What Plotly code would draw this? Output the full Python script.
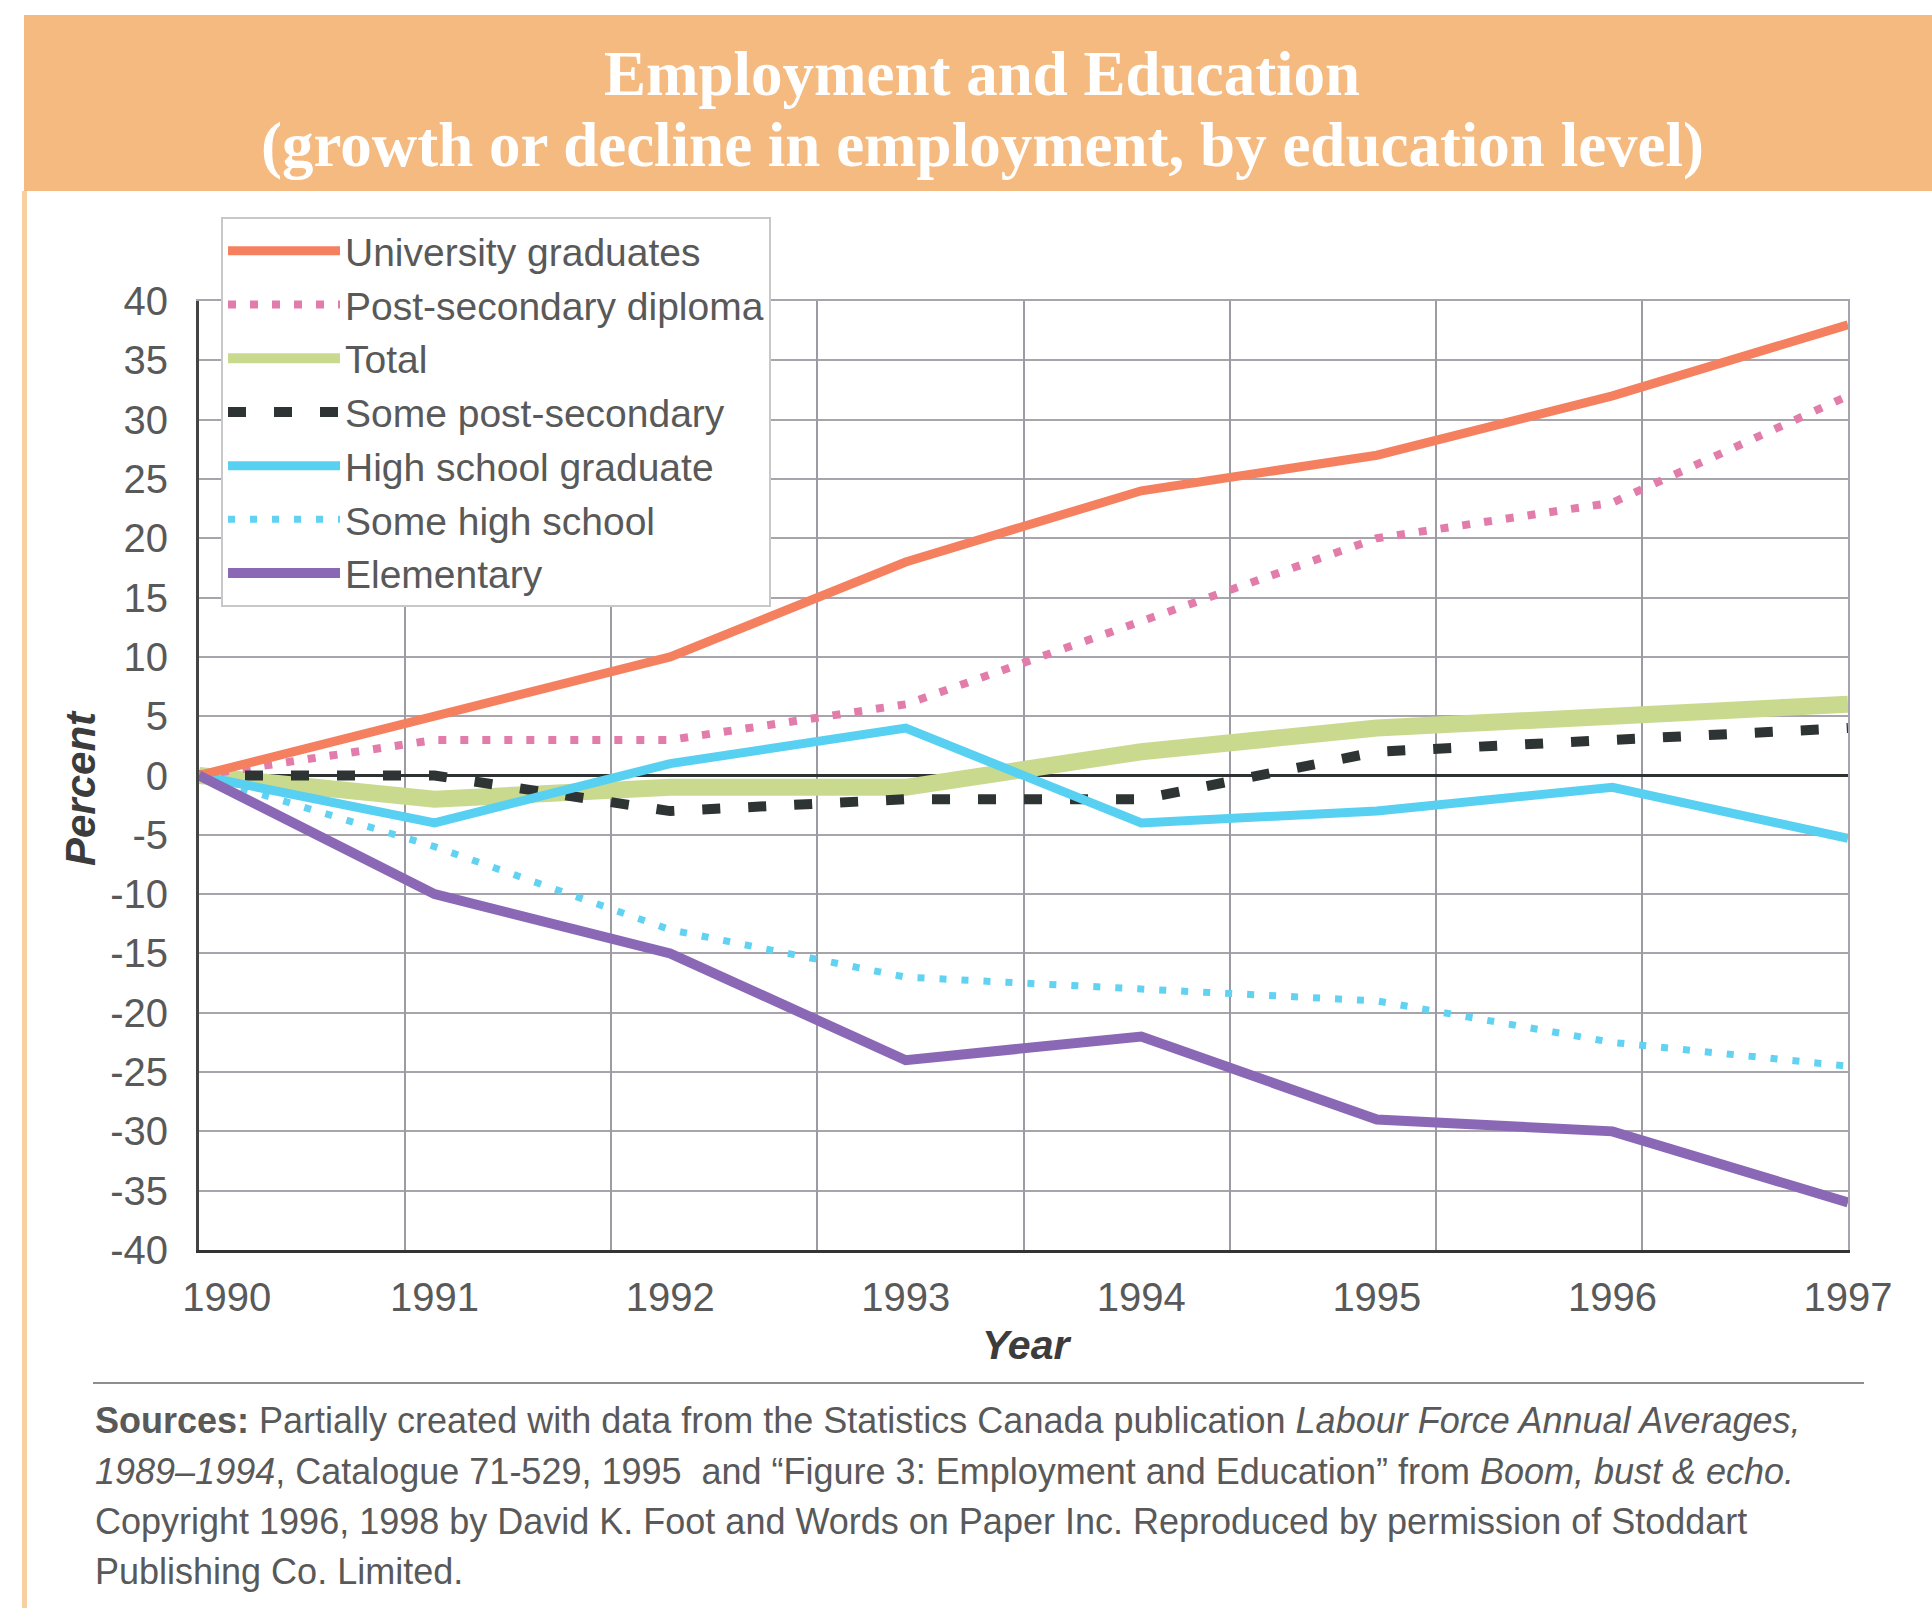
import plotly.graph_objects as go

# ---------------- data ----------------
years = [1990, 1991, 1992, 1993, 1994, 1995, 1996, 1997]
year_labels = ["\u00a0\u00a0\u00a0\u00a0\u00a01990", "1991", "1992", "1993", "1994", "1995", "1996", "1997"]

university_graduates = [0, 5, 10, 18, 24, 27, 32, 38]
post_secondary_diploma = [0, 3, 3, 6, 13, 20, 23, 32]
total = [0, -2, -1, -1, 2, 4, 5, 6]
some_post_secondary = [0, 0, -3, -2, -2, 2, 3, 4]
high_school_graduate = [0, -4, 1, 4, -4, -3, -1, -5.3]
some_high_school = [0, -6, -13, -17, -18, -19, -22.5, -24.5]
elementary = [0, -10, -15, -24, -22, -29, -30, -36]

y_ticks = [40, 35, 30, 25, 20, 15, 10, 5, 0, -5, -10, -15, -20, -25, -30, -35, -40]
y_tick_labels = ["40", "35", "30", "25", "20", "15", "10", "5", "0", "-5", "-10",
                 "-15", "-20", "-25", "-30", "-35", "-40"]

title_line1 = "Employment and Education"
title_line2 = "(growth or decline in employment, by education level)"
source_lines = [
    "<b>Sources:</b> Partially created with data from the Statistics Canada publication <i>Labour Force Annual Averages,</i>",
    "<i>1989\u20131994</i>, Catalogue 71-529, 1995  and \u201cFigure 3: Employment and Education\u201d from <i>Boom, bust &amp; echo.</i>",
    "Copyright 1996, 1998 by David K. Foot and Words on Paper Inc. Reproduced by permission of Stoddart",
    "Publishing Co. Limited.",
]

# ---------------- geometry helpers (pixel -> paper) ----------------
W, H = 1932, 1608
def PX(x):
    return x / W
def PY(y):
    return 1 - y / H

SANS = "Liberation Sans, Arial, sans-serif"
SERIF = "Liberation Serif, Times New Roman, serif"
TXT = "#595959"

fig = go.Figure()

# series (drawing order) with legend rank
series = [
    ("Total", total, dict(color="#C9DA8F", width=17), 3),
    ("Some high school", some_high_school, dict(color="#62D2F2", width=7, dash="7px,15px"), 6),
    ("Post-secondary diploma", post_secondary_diploma, dict(color="#E27DAB", width=8, dash="8px,14px"), 2),
    ("Some post-secondary", some_post_secondary, dict(color="#2E3433", width=10, dash="18px,28px"), 4),
    ("High school graduate", high_school_graduate, dict(color="#58D0F2", width=9), 5),
    ("University graduates", university_graduates, dict(color="#F5805F", width=9), 1),
    ("Elementary", elementary, dict(color="#8B68B5", width=10), 7),
]
for name, vals, line, rank in series:
    fig.add_trace(go.Scatter(x=years, y=vals, name=name, mode="lines", line=line,
                             legendrank=rank, hoverinfo="skip"))

# helper trace for the 8-interval vertical grid and top/right frame
fig.add_trace(go.Scatter(x=[0, 8], y=[-40, 40], xaxis="x2", yaxis="y2", mode="none",
                         showlegend=False, hoverinfo="skip"))

xdom = [PX(199), PX(1848)]
ydom = [PY(1250), PY(301)]

fig.update_layout(
    width=W, height=H,
    margin=dict(l=0, r=0, t=0, b=0, autoexpand=False),
    paper_bgcolor="white", plot_bgcolor="white",
    showlegend=True,
    legend=dict(x=PX(221), y=PY(217), xanchor="left", yanchor="top",
                bgcolor="white", bordercolor="#C8C8C8", borderwidth=2,
                font=dict(family=SANS, size=39, color=TXT),
                itemwidth=112, tracegroupgap=0, traceorder="normal"),
    xaxis=dict(domain=xdom, range=[1990, 1997], tickvals=years, ticktext=year_labels,
               showgrid=False, zeroline=False, showline=True, linecolor="#333333", linewidth=3,
               ticks="", ticklabelstandoff=10, automargin=False,
               tickfont=dict(family=SANS, size=40, color=TXT), anchor="y"),
    yaxis=dict(domain=ydom, range=[-40, 40], tickvals=y_ticks, ticktext=y_tick_labels,
               showgrid=True, gridcolor="#A8A4AC", gridwidth=1.5,
               zeroline=True, zerolinecolor="#2E3232", zerolinewidth=3,
               showline=True, linecolor="#444444", linewidth=3,
               ticks="", ticklabelstandoff=20, automargin=False,
               tickfont=dict(family=SANS, size=40, color=TXT), anchor="x"),
    xaxis2=dict(overlaying="x", anchor="y2", side="top", range=[0, 8], dtick=1, tick0=0,
                showgrid=True, gridcolor="#9C9AA2", gridwidth=1.5, zeroline=False,
                showline=True, linecolor="#A8A4AC", linewidth=1.5, automargin=False,
                showticklabels=False, ticks=""),
    yaxis2=dict(overlaying="y", anchor="x2", side="right", range=[-40, 40],
                showgrid=False, zeroline=False, showline=True, linecolor="#A8A4AC",
                linewidth=1.5, showticklabels=False, ticks="", automargin=False),
)

shapes = [
    # orange banner
    dict(type="rect", xref="paper", yref="paper", x0=PX(24), x1=1.0, y0=PY(191), y1=PY(15),
         fillcolor="#F5BA80", line=dict(width=0), layer="below"),
    # left orange rule
    dict(type="rect", xref="paper", yref="paper", x0=PX(22), x1=PX(27), y0=0, y1=PY(191),
         fillcolor="#F8CFA0", line=dict(width=0), layer="below"),
    # separator above sources
    dict(type="line", xref="paper", yref="paper", x0=PX(93), x1=PX(1864), y0=PY(1383), y1=PY(1383),
         line=dict(color="#8E8E8E", width=2)),
]
fig.update_layout(shapes=shapes)

ann = [
    dict(text="<b>" + title_line1 + "</b>", x=PX(982), y=PY(74), font=dict(family=SERIF, size=63, color="white")),
    dict(text="<b>" + title_line2 + "</b>", x=PX(982), y=PY(145), font=dict(family=SERIF, size=63, color="white")),
    dict(text="<b><i>Percent</i></b>", x=PX(80), y=PY(788), textangle=-90,
         font=dict(family=SANS, size=42, color="#3C3C3C")),
    dict(text="<b><i>Year</i></b>", x=PX(1026), y=PY(1345),
         font=dict(family=SANS, size=41, color="#3C3C3C")),
]
for a in ann:
    a.update(xref="paper", yref="paper", showarrow=False, xanchor="center", yanchor="middle")
for i, (line_text, yy) in enumerate(zip(source_lines, [1420, 1471, 1521, 1571])):
    ann.append(dict(text=line_text, x=PX(93), y=PY(yy), xref="paper", yref="paper",
                    showarrow=False, xanchor="left", yanchor="middle",
                    font=dict(family=SANS, size=36, color=TXT)))
fig.update_layout(annotations=ann)

fig.write_html("out.html")
